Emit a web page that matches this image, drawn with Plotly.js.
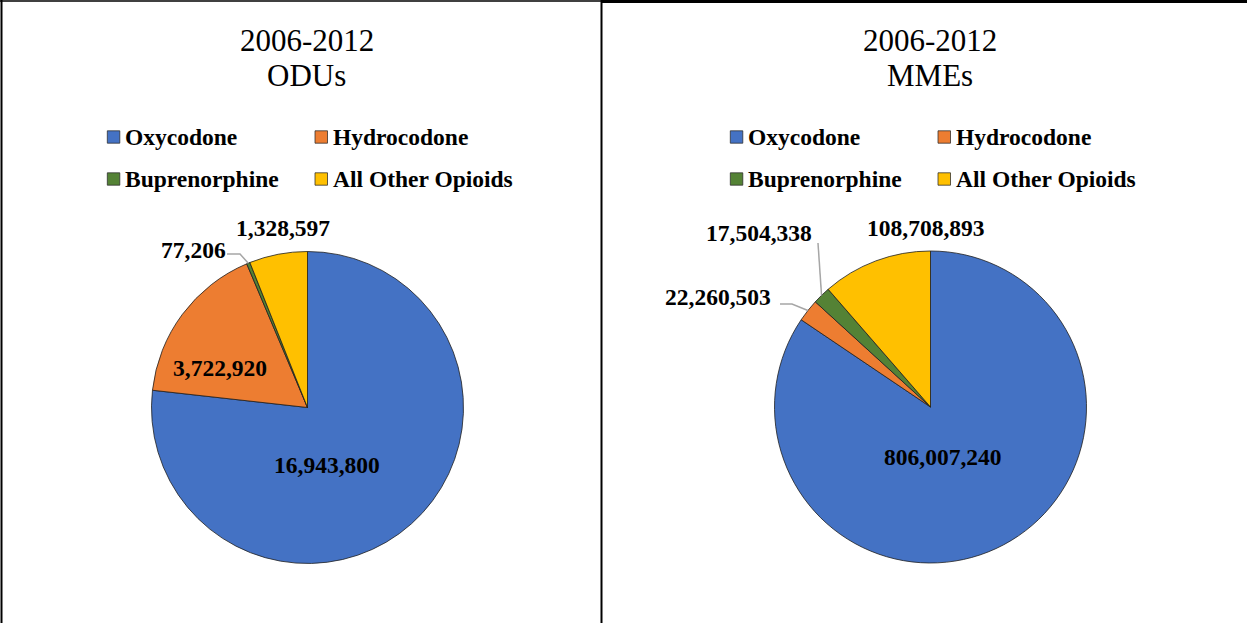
<!DOCTYPE html>
<html><head><meta charset="utf-8">
<script src="https://cdn.plot.ly/plotly-3.0.1.min.js"></script>
<style>html,body{margin:0;padding:0;background:#fff}#chart{width:1247px;height:623px}</style>
</head><body><div id="chart"></div>
<script>
// ---- data ----
const categories = ['Oxycodone', 'Hydrocodone', 'Buprenorphine', 'All Other Opioids'];
const oduValues = [16943800, 3722920, 77206, 1328597];
const mmeValues = [806007240, 22260503, 17504338, 108708893];
const titleLine1 = ['2006-2012', '2006-2012'];
const titleLine2 = ['ODUs', 'MMEs'];

// ---- styles / layout positions ----
const colors = ['#4472C4', '#ED7D31', '#548235', '#FFC000'];
const W = 1247, H = 623;
const px = x => x / W, py = y => 1 - y / H;
const SERIF = 'Liberation Serif, Times New Roman, serif';
const panels = [
  { values: oduValues, cx: 307.5, cy: 407.5, r: 156,
    labelPos: [[161.3, 0.39], [294.1, 0.615], [324.1, 1.247], [352.1, 1.16]],
    leaders: { 2: [[227, 254], [240, 254]] } },
  { values: mmeValues, cx: 930.5, cy: 407, r: 156,
    labelPos: [[165.6, 0.33], [297.4, 1.532], [315.5, 1.565], [358.7, 1.149]],
    leaders: { 1: [[780, 304], [792, 304]], 2: [[818, 243]] } }
];

const fmt = v => v.toLocaleString('en-US');
const traces = [], annotations = [], shapes = [];

panels.forEach((p, i) => {
  traces.push({
    type: 'pie', labels: categories, values: p.values, sort: false,
    direction: 'clockwise', rotation: 0, textinfo: 'none', showlegend: false,
    marker: { colors: colors, line: { color: '#1f1f1f', width: 0.8 } },
    domain: { x: [px(p.cx - p.r), px(p.cx + p.r)], y: [py(p.cy + p.r), py(p.cy - p.r)] },
    hoverinfo: 'label+value'
  });
  const total = p.values.reduce((a, b) => a + b, 0);
  let cum = 0;
  p.values.forEach((v, k) => {
    const mid = (cum + v / 2) / total * 360;
    cum += v;
    const [ang, rf] = p.labelPos[k];
    const a = ang * Math.PI / 180;
    const lx = p.cx + p.r * rf * Math.sin(a), ly = p.cy - p.r * rf * Math.cos(a);
    annotations.push({ x: px(lx), y: py(ly), xref: 'paper', yref: 'paper', showarrow: false,
      xanchor: 'center', yanchor: 'middle', text: '<b>' + fmt(v) + '</b>',
      font: { family: SERIF, size: 23.5, color: '#000' } });
    if (p.leaders[k]) {
      const m = mid * Math.PI / 180;
      const ex = p.cx + p.r * Math.sin(m), ey = p.cy - p.r * Math.cos(m);
      const pts = p.leaders[k].concat([[ex, ey]]);
      shapes.push({ type: 'path', xref: 'paper', yref: 'paper',
        path: pts.map((q, j) => (j ? 'L' : 'M') + px(q[0]) + ',' + py(q[1])).join(' '),
        line: { color: '#A6A6A6', width: 1.5 } });
    }
  });
  // titles
  annotations.push({ x: px(p.cx - 1), y: py(41), xref: 'paper', yref: 'paper', showarrow: false,
    xanchor: 'center', yanchor: 'middle', text: titleLine1[i], font: { family: SERIF, size: 31, color: '#000' } });
  annotations.push({ x: px(p.cx - 1), y: py(76), xref: 'paper', yref: 'paper', showarrow: false,
    xanchor: 'center', yanchor: 'middle', text: titleLine2[i], font: { family: SERIF, size: 31, color: '#000' } });
  // manual legend (2 columns x 2 rows)
  const colX = [p.cx - 200.2, p.cx + 7.5];
  const rowY = [137, 179];
  categories.forEach((c, k) => {
    const sx = colX[k % 2], sy = rowY[Math.floor(k / 2)];
    shapes.push({ type: 'rect', xref: 'paper', yref: 'paper',
      x0: px(sx), x1: px(sx + 12.5), y0: py(sy + 6.2), y1: py(sy - 6.2),
      fillcolor: colors[k], line: { color: 'rgba(40,40,40,0.75)', width: 1 } });
    annotations.push({ x: px(sx + 16), y: py(sy), xref: 'paper', yref: 'paper', showarrow: false,
      xanchor: 'left', yanchor: 'middle', text: '<b>' + c + '</b>',
      font: { family: SERIF, size: 23.5, color: '#000' } });
  });
});

// panel borders
shapes.push({ type: 'line', xref: 'paper', yref: 'paper', x0: px(1.5), x1: px(1.5), y0: 0, y1: 1, line: { color: '#000', width: 2 } });
shapes.push({ type: 'line', xref: 'paper', yref: 'paper', x0: px(601.5), x1: px(601.5), y0: 0, y1: 1, line: { color: '#000', width: 2 } });
shapes.push({ type: 'line', xref: 'paper', yref: 'paper', x0: 0, x1: px(602), y0: py(1), y1: py(1), line: { color: '#000', width: 1.5 } });
shapes.push({ type: 'line', xref: 'paper', yref: 'paper', x0: px(601), x1: 1, y0: py(1.5), y1: py(1.5), line: { color: '#000', width: 3 } });

Plotly.newPlot('chart', traces, {
  width: W, height: H, margin: { l: 0, r: 0, t: 0, b: 0 },
  paper_bgcolor: '#fff', showlegend: false,
  annotations: annotations, shapes: shapes
}, { staticPlot: true, displayModeBar: false });
</script></body></html>
